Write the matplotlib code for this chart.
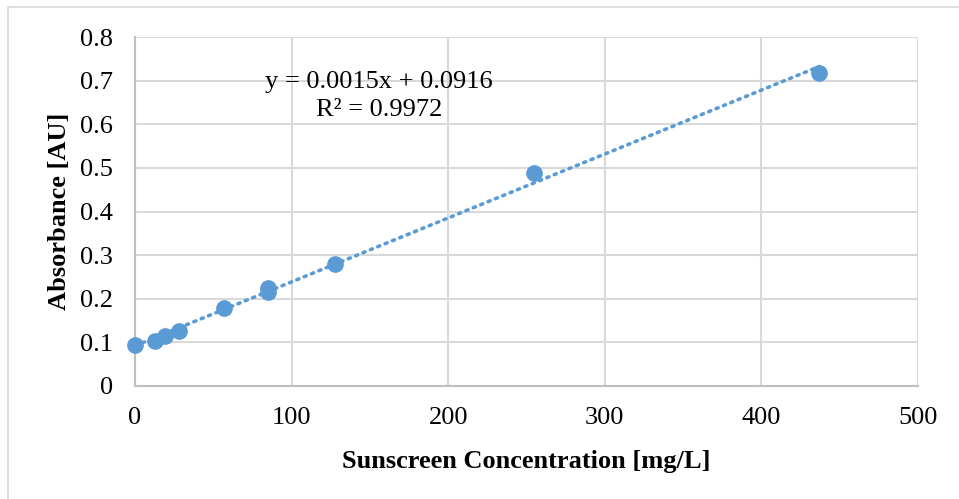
import numpy as np
import matplotlib
matplotlib.use("Agg")
import matplotlib.pyplot as plt
from matplotlib.patches import Rectangle

# sunscreen calibration standards
conc = [0, 13, 19, 28, 57, 85, 85, 128, 255, 437]
absorb = [0.094, 0.103, 0.115, 0.126, 0.178, 0.216, 0.225, 0.280, 0.489, 0.718]
eq_text = "y = 0.0015x + 0.0916\nR² = 0.9972"

plt.rcParams['font.family'] = ['Liberation Serif', 'DejaVu Serif']

fig = plt.figure(figsize=(9.59, 4.99), dpi=100)
ax = fig.add_axes([135/959, 113/499, 783/959, 349/499])

# chart frame
fig.patches.append(Rectangle((8/959, -0.1), 1.2, (499-7)/499 + 0.1, transform=fig.transFigure,
                             fill=False, edgecolor='#d9d9d9', linewidth=1.2))

blue = '#5b9bd5'

# linear fit line
slope, icpt = np.polyfit(conc, absorb, 1)
xs = np.array([min(conc), max(conc)])
ax.plot(xs, slope*xs + icpt, linestyle=(0, (0.6, 1.6)), color=blue, linewidth=2.6,
        dash_capstyle='round', zorder=2)
ax.plot(conc, absorb, 'o', color=blue, markersize=11, zorder=3, clip_on=False)

ax.set_xlim(0, 500)
ax.set_ylim(0, 0.8)
ax.set_xticks(np.arange(0, 501, 100))
ax.set_yticks(np.round(np.arange(0, 0.81, 0.1), 1))
ax.set_yticklabels(['0'] + [f'{v:.1f}' for v in np.arange(0.1, 0.81, 0.1)])
ax.grid(True, color='#d9d9d9', linewidth=1.5)
ax.set_axisbelow(True)
for s in ['top', 'right']:
    ax.spines[s].set_visible(False)
for s in ['left', 'bottom']:
    ax.spines[s].set_color('#bfbfbf')
    ax.spines[s].set_linewidth(1.5)
ax.tick_params(axis='both', length=0, labelsize=19)
ax.tick_params(axis='x', pad=15)
ax.tick_params(axis='y', pad=16)

ax.set_xlabel('Sunscreen Concentration [mg/L]', fontsize=19, fontweight='bold', labelpad=15)
ax.set_ylabel('Absorbance [AU]', fontsize=19, fontweight='bold', labelpad=6)

ax.text(156, 0.665, eq_text, fontsize=19, ha='center', va='center', linespacing=1.35)

fig.savefig('out.png', dpi=100)
